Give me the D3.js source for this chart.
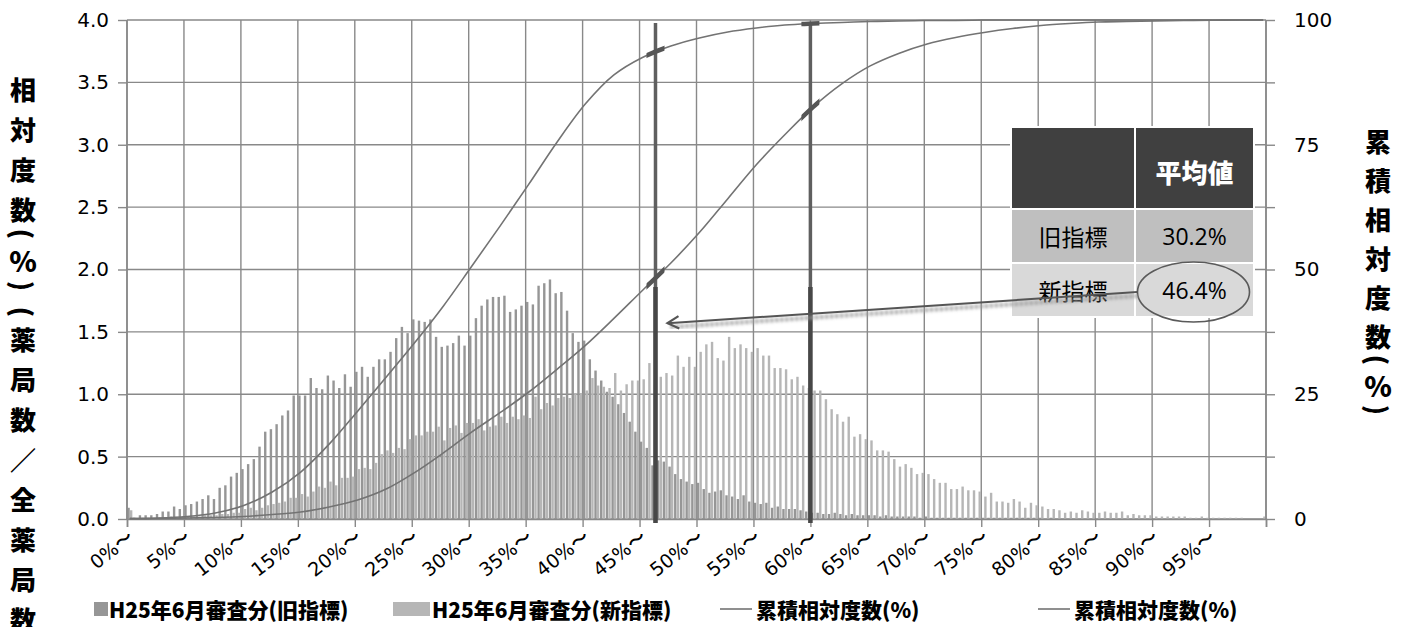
<!DOCTYPE html>
<html>
<head>
<meta charset="utf-8">
<script src="https://cdn.jsdelivr.net/npm/d3@7"></script>
<style>
  body { margin: 0; background: #fff; }
  svg text { font-family: "DejaVu Sans", sans-serif; }
  .jp { font-family: "Noto Sans CJK JP", sans-serif; }
</style>
</head>
<body>
<svg id="chart" width="1402" height="627"></svg>
<script>
// 0.5%刻みの階級 (0%〜99.5%)
const bins = d3.range(0, 100, 0.5);

// 相対度数 (%) H25年6月審査分(旧指標)
const oldFreq = [
  0.09, 0.01, 0.03, 0.03, 0.03, 0.04, 0.06, 0.06, 0.10, 0.08,
  0.11, 0.12, 0.14, 0.16, 0.19, 0.16, 0.25, 0.27, 0.34, 0.37,
  0.40, 0.44, 0.48, 0.58, 0.70, 0.72, 0.76, 0.83, 0.87, 0.99,
  0.99, 0.99, 1.13, 1.05, 1.04, 1.15, 1.11, 1.05, 1.16, 1.06,
  1.18, 1.22, 1.14, 1.22, 1.28, 1.28, 1.34, 1.45, 1.54, 1.49,
  1.60, 1.59, 1.58, 1.60, 1.46, 1.38, 1.39, 1.41, 1.47, 1.39,
  1.47, 1.61, 1.71, 1.76, 1.78, 1.78, 1.79, 1.66, 1.68, 1.71,
  1.74, 1.72, 1.87, 1.89, 1.92, 1.81, 1.82, 1.67, 1.49, 1.42,
  1.43, 1.28, 1.19, 1.11, 1.02, 0.98, 0.92, 0.85, 0.78, 0.70,
  0.62, 0.57, 0.43, 0.47, 0.46, 0.42, 0.36, 0.32, 0.30, 0.28,
  0.29, 0.24, 0.21, 0.22, 0.23, 0.19, 0.18, 0.16, 0.19, 0.14,
  0.13, 0.12, 0.13, 0.09, 0.10, 0.08, 0.08, 0.08, 0.07, 0.06,
  0.05, 0.05, 0.04, 0.04, 0.05, 0.04, 0.03, 0.04, 0.03, 0.03,
  0.03, 0.03, 0.02, 0.03, 0.02, 0.02, 0.02, 0.02, 0.02, 0.01,
  0.02, 0.01, 0.01, 0.01, 0.01, 0.01, 0.01, 0.01, 0.01, 0.01,
  0.01, 0.01, 0.01, 0.01, 0.01, 0.01, 0.01, 0.01, 0.01, 0.01,
  0.01, 0, 0.01, 0, 0, 0, 0, 0, 0, 0,
  0, 0, 0, 0, 0, 0, 0, 0, 0, 0,
  0, 0, 0, 0, 0, 0, 0, 0, 0, 0,
  0, 0, 0, 0, 0, 0, 0, 0, 0, 0
];

// 相対度数 (%) H25年6月審査分(新指標)
const newFreq = [
  0.07, 0.00, 0.01, 0.01, 0.01, 0.01, 0.01, 0.02, 0.01, 0.02,
  0.02, 0.02, 0.02, 0.03, 0.03, 0.03, 0.04, 0.04, 0.05, 0.05,
  0.08, 0.09, 0.07, 0.09, 0.11, 0.12, 0.13, 0.14, 0.17, 0.17,
  0.20, 0.18, 0.22, 0.26, 0.25, 0.30, 0.27, 0.33, 0.33, 0.34,
  0.40, 0.41, 0.40, 0.45, 0.52, 0.55, 0.53, 0.57, 0.56, 0.64,
  0.67, 0.67, 0.70, 0.70, 0.74, 0.63, 0.73, 0.75, 0.69, 0.77,
  0.77, 0.80, 0.71, 0.74, 0.75, 0.82, 0.77, 0.82, 0.80, 0.83,
  0.81, 0.98, 0.88, 0.93, 0.91, 0.97, 0.98, 0.97, 1.01, 1.01,
  1.03, 1.13, 1.07, 1.06, 1.05, 1.17, 1.03, 1.08, 1.11, 1.11,
  1.12, 1.25, 1.08, 1.14, 1.17, 1.15, 1.31, 1.22, 1.30, 1.22,
  1.34, 1.40, 1.42, 1.29, 1.27, 1.46, 1.37, 1.40, 1.37, 1.34,
  1.37, 1.31, 1.31, 1.21, 1.21, 1.20, 1.12, 1.14, 1.07, 1.05,
  1.03, 1.03, 0.96, 0.88, 0.84, 0.78, 0.82, 0.66, 0.68, 0.64,
  0.63, 0.55, 0.55, 0.54, 0.48, 0.42, 0.44, 0.41, 0.36, 0.37,
  0.36, 0.32, 0.29, 0.29, 0.24, 0.24, 0.26, 0.23, 0.23, 0.22,
  0.18, 0.21, 0.14, 0.14, 0.13, 0.16, 0.14, 0.09, 0.13, 0.11,
  0.10, 0.08, 0.08, 0.07, 0.05, 0.06, 0.05, 0.07, 0.06, 0.05,
  0.05, 0.06, 0.05, 0.05, 0.06, 0.03, 0.04, 0.03, 0.03, 0.03,
  0.02, 0.02, 0.02, 0.02, 0.02, 0.02, 0.01, 0.01, 0.02, 0.01,
  0.01, 0.01, 0.01, 0.01, 0.01, 0.01, 0.00, 0.00, 0.00, 0.02
];

// 累積相対度数 (%) : 読み取った階級番号
const cumIdx = [0, 5, 10, 15, 20, 25, 30, 35, 40, 45, 50, 55, 60, 65, 70, 75, 80, 85, 90, 95,
  100, 105, 110, 115, 120, 125, 130, 135, 140, 145, 150, 155, 160, 165, 170, 175, 180, 185, 190, 195, 199];
const cumOld = [0.1, 0.2, 0.5, 1.2, 2.7, 5.4, 9.4, 15.0, 21.6, 28.4, 35.3, 42.6, 50.6, 58.7, 67.0, 75.5, 83.2, 89.0, 92.5, 94.8,
  96.4, 97.6, 98.4, 99.0, 99.3, 99.5, 99.7, 99.8, 99.9, 99.9, 100, 100, 100, 100, 100, 100, 100, 100, 100, 100, 100];
const cumNew = [0.07, 0.1, 0.2, 0.3, 0.5, 0.9, 1.4, 2.4, 3.8, 6.0, 9.3, 13.2, 17.4, 21.3, 25.4, 30.0, 34.8, 40.2, 45.8, 51.3,
  57.4, 64.2, 71.0, 77.0, 82.6, 87.2, 90.8, 93.3, 95.2, 96.5, 97.5, 98.3, 98.9, 99.3, 99.6, 99.7, 99.8, 99.9, 99.95, 100, 100];

const tickLabels = ["0%〜", "5%〜", "10%〜", "15%〜", "20%〜", "25%〜", "30%〜", "35%〜", "40%〜", "45%〜",
  "50%〜", "55%〜", "60%〜", "65%〜", "70%〜", "75%〜", "80%〜", "85%〜", "90%〜", "95%〜"];
const leftTicks = [0, 0.5, 1.0, 1.5, 2.0, 2.5, 3.0, 3.5, 4.0];
const rightTicks = [0, 12.5, 25, 37.5, 50, 62.5, 75, 87.5, 100];

const markerPcts = [46.4, 60];   // 縦線 (%)
const tableHead = ["", "平均値"];
const tableRows = [["旧指標", "30.2%"], ["新指標", "46.4%"]];
const legendNames = ["H25年6月審査分(旧指標)", "H25年6月審査分(新指標)", "累積相対度数(%)", "累積相対度数(%)"];
const leftTitle = "相対度数(%)(薬局数／全薬局数)";
const rightTitle = "累積相対度数(%)";

// layout
const plotL = 127, plotR = 1266, plotT = 20, plotB = 519;
const oldColor = "#969696", newColor = "#b6b6b6", gridColor = "#898989", lineColor = "#737373";

const svg = d3.select("#chart");

const x = d3.scaleBand().domain(d3.range(bins.length)).range([plotL, plotR]).paddingInner(0.12).paddingOuter(0.06);
const xSlot = d3.scaleLinear().domain([0, bins.length]).range([plotL, plotR]);
const xPct = d3.scaleLinear().domain([0, 100]).range([plotL, plotR]);
const xSub = d3.scaleBand().domain(["old", "new"]).range([0, x.bandwidth()]).paddingInner(0.08);
const yL = d3.scaleLinear().domain([0, 4]).range([plotB, plotT]);
const yR = d3.scaleLinear().domain([0, 100]).range([plotB, plotT]);

// defs
const defs = svg.append("defs");
const blur = defs.append("filter").attr("id", "soft").attr("x", "-50%").attr("y", "-5%").attr("width", "200%").attr("height", "110%");
blur.append("feGaussianBlur").attr("stdDeviation", 1.6);
markerPcts.forEach((p, i) => {
  defs.append("clipPath").attr("id", "clip" + i)
    .append("rect").attr("x", xPct(p) - 9).attr("y", plotT - 5).attr("width", 18).attr("height", plotB - plotT + 10);
});

// gridlines
svg.append("g").selectAll("line").data(leftTicks).join("line")
  .attr("x1", plotL).attr("x2", plotR).attr("y1", d => yL(d)).attr("y2", d => yL(d))
  .attr("stroke", gridColor).attr("stroke-width", 1.4);
svg.append("g").selectAll("line").data(d3.range(0, bins.length + 1, 10)).join("line")
  .attr("x1", d => xSlot(d)).attr("x2", d => xSlot(d)).attr("y1", plotT).attr("y2", plotB)
  .attr("stroke", gridColor).attr("stroke-width", 1.4);

// bars
svg.append("g").selectAll("rect").data(oldFreq).join("rect")
  .attr("x", (d, i) => x(i) + xSub("old")).attr("width", xSub.bandwidth())
  .attr("y", d => yL(d)).attr("height", d => plotB - yL(d)).attr("fill", oldColor);
svg.append("g").selectAll("rect").data(newFreq).join("rect")
  .attr("x", (d, i) => x(i) + xSub("new")).attr("width", xSub.bandwidth())
  .attr("y", d => yL(d)).attr("height", d => plotB - yL(d)).attr("fill", newColor);

// axes
const axisL = svg.append("g").attr("transform", `translate(${plotL},0)`)
  .call(d3.axisLeft(yL).tickValues(leftTicks).tickFormat(d3.format(".1f")).tickSize(9).tickPadding(9));
const axisR = svg.append("g").attr("transform", `translate(${plotR},0)`)
  .call(d3.axisRight(yR).tickValues(rightTicks).tickFormat(d => d % 25 === 0 ? d : "").tickSize(9).tickPadding(19));
const axisB = svg.append("g").attr("transform", `translate(0,${plotB})`)
  .call(d3.axisBottom(xSlot).tickValues(d3.range(0, bins.length + 1, 10)).tickFormat("").tickSize(8));
[axisL, axisR, axisB].forEach(g => {
  g.select(".domain").attr("stroke", gridColor).attr("stroke-width", 1.6);
  g.selectAll(".tick line").attr("stroke", gridColor).attr("stroke-width", 1.4);
  g.selectAll(".tick text").attr("fill", "#000").style("font-size", "20px").style("font-family", "'DejaVu Sans'");
});
axisL.select(".domain").attr("d", `M0,${plotT}V${plotB}`);
axisR.select(".domain").attr("d", `M0,${plotT}V${plotB}`);

// x labels (rotated)
svg.append("g").selectAll("text").data(tickLabels).join("text")
  .attr("transform", (d, i) => `translate(${x(i * 10) + x.bandwidth() / 2 - 3},${plotB + 10}) rotate(-38)`)
  .attr("text-anchor", "end").attr("dy", "0.72em")
  .style("font-size", "19px").attr("fill", "#000")
  .text(d => d);

// cumulative lines
const cumLine = vals => d3.line()
  .x((d, i) => x(cumIdx[i]) + x.bandwidth() / 2)
  .y(d => yR(d))
  .curve(d3.curveCatmullRom.alpha(0.5))(vals);
[cumOld, cumNew].forEach(vals => {
  svg.append("path").attr("d", cumLine(vals)).attr("fill", "none")
    .attr("stroke", lineColor).attr("stroke-width", 1.6);
});

// vertical marker lines
markerPcts.forEach((p, i) => {
  const g = svg.append("g");
  g.append("line").attr("x1", xPct(p) + 1.5).attr("x2", xPct(p) + 1.5).attr("y1", plotT + 3).attr("y2", plotB + 6)
    .attr("stroke", "#7a7a7a").attr("stroke-width", 6).attr("filter", "url(#soft)").attr("opacity", 0.8);
  g.append("line").attr("x1", xPct(p)).attr("x2", xPct(p)).attr("y1", plotT + 3).attr("y2", plotB + 4)
    .attr("stroke", "#5f5f5f").attr("stroke-width", 3.5);
  g.append("line").attr("x1", xPct(p)).attr("x2", xPct(p)).attr("y1", yL(1.86)).attr("y2", plotB + 4)
    .attr("stroke", "#474747").attr("stroke-width", 4.5);
  // thicker crossing marks on cumulative curves
  [cumOld, cumNew].forEach(vals => {
    g.append("path").attr("d", cumLine(vals)).attr("fill", "none")
      .attr("stroke", "#555").attr("stroke-width", 4.5).attr("clip-path", `url(#clip${i})`);
  });
});

// table
const tX = 1011, tY = 127, colW = [124, 119], headH = 82, rowH = 54;
const tbl = svg.append("g");
const cells = [];
tableHead.forEach((t, c) => cells.push({t, r: 0, c}));
tableRows.forEach((row, r) => row.forEach((t, c) => cells.push({t, r: r + 1, c})));
const cellX = c => tX + d3.sum(colW.slice(0, c));
const cellY = r => r === 0 ? tY : tY + headH + (r - 1) * rowH;
const cellH = r => r === 0 ? headH : rowH;
const rowFill = ["#404040", "#bfbfbf", "#d9d9d9"];
tbl.selectAll("rect").data(cells).join("rect")
  .attr("x", d => cellX(d.c)).attr("y", d => cellY(d.r))
  .attr("width", d => colW[d.c]).attr("height", d => cellH(d.r))
  .attr("fill", d => rowFill[d.r]).attr("stroke", "#fff").attr("stroke-width", 2);
tbl.selectAll("text").data(cells).join("text")
  .attr("class", d => (d.c === 0 || d.r === 0) ? "jp" : null)
  .attr("x", d => cellX(d.c) + colW[d.c] / 2)
  .attr("y", d => cellY(d.r) + cellH(d.r) / 2 + (d.r === 0 ? 3 : 0))
  .attr("text-anchor", "middle").attr("dominant-baseline", "central")
  .style("font-size", d => d.r === 0 ? "26px" : "23px")
  .style("font-weight", d => d.r === 0 ? 900 : 400)
  .style("font-family", d => (d.c === 1 && d.r > 0) ? "'Open Sans', sans-serif" : null)
  .attr("fill", d => d.r === 0 ? "#fff" : "#000")
  .text(d => d.t);

// ellipse + arrow
const ecx = cellX(1) + colW[1] / 2 - 1, ecy = cellY(2) + rowH / 2 + 2;
svg.append("ellipse").attr("cx", ecx).attr("cy", ecy).attr("rx", 56).attr("ry", 30)
  .attr("fill", "none").attr("stroke", "#5a5a5a").attr("stroke-width", 1.6);
const a0 = [ecx - 56, ecy], a1 = [xPct(markerPcts[0]) + 12, yL(1.57)];
svg.append("line").attr("x1", a0[0]).attr("y1", a0[1] + 4).attr("x2", a1[0] + 2).attr("y2", a1[1] + 4)
  .attr("stroke", "#9a9a9a").attr("stroke-width", 4).attr("stroke-dasharray", "3,2").attr("filter", "url(#soft)");
svg.append("line").attr("x1", a0[0]).attr("y1", a0[1]).attr("x2", a1[0]).attr("y2", a1[1])
  .attr("stroke", "#555").attr("stroke-width", 2);
const ang = Math.atan2(a1[1] - a0[1], a1[0] - a0[0]);
const head = [-0.5, 0.5].map(s => [a1[0] - 13 * Math.cos(ang + s), a1[1] - 13 * Math.sin(ang + s)]);
svg.append("path").attr("d", `M${head[0]}L${a1}L${head[1]}`)
  .attr("fill", "none").attr("stroke", "#555").attr("stroke-width", 2.2);

// vertical axis titles (縦書き: 括弧は90度回転)
const isParen = ch => ch === "(" || ch === ")";
const narrow = ch => "()%".includes(ch);
function verticalTitle(str, cx, y0, full, half) {
  const chars = Array.from(str);
  let y = y0;
  const pos = chars.map((ch, i) => {
    if (i > 0) y += (narrow(ch) || narrow(chars[i - 1])) ? half : full;
    return y;
  });
  svg.append("g").selectAll("text").data(chars).join("text")
    .attr("class", "jp")
    .attr("transform", (d, i) => `translate(${cx},${pos[i]})` + (isParen(d) ? " rotate(90)" : ""))
    .attr("text-anchor", "middle").attr("dominant-baseline", "central")
    .style("font-size", d => d === "%" ? "28px" : "26px").style("font-weight", 900).attr("fill", "#000")
    .text(d => d);
}
verticalTitle(leftTitle, 23, 88, 40, 26);
verticalTitle(rightTitle, 1378, 140, 39, 25);

// legend
const lg = svg.append("g").attr("class", "jp");
const legY = 609;
lg.append("rect").attr("x", 94).attr("y", legY - 7).attr("width", 14).attr("height", 14).attr("fill", oldColor);
lg.append("rect").attr("x", 393).attr("y", legY - 7).attr("width", 37).attr("height", 14).attr("fill", newColor);
lg.append("line").attr("x1", 720).attr("x2", 752).attr("y1", legY).attr("y2", legY).attr("stroke", lineColor).attr("stroke-width", 1.6);
lg.append("line").attr("x1", 1038).attr("x2", 1070).attr("y1", legY).attr("y2", legY).attr("stroke", lineColor).attr("stroke-width", 1.6);
const legX = [109, 432, 756, 1074];
lg.selectAll("text").data(legendNames).join("text")
  .attr("x", (d, i) => legX[i]).attr("y", legY).attr("dominant-baseline", "central")
  .attr("class", "jp").style("font-size", "21px").style("font-weight", 900).attr("fill", "#000")
  .text(d => d);
</script>
</body>
</html>
